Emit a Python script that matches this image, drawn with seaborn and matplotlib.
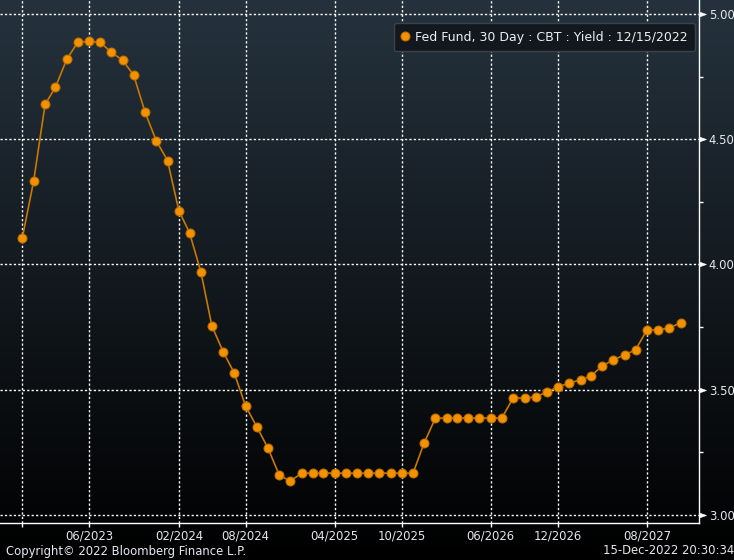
import numpy as np
import pandas as pd
import matplotlib
matplotlib.use('Agg')
import matplotlib.pyplot as plt
import seaborn as sns
from matplotlib.lines import Line2D
from matplotlib.path import Path
from matplotlib.ticker import MultipleLocator
from matplotlib.colors import LinearSegmentedColormap

# ---------------- data ----------------
months = pd.date_range('2022-12-01', periods=60, freq='MS')
yields = [4.107, 4.335, 4.639, 4.707, 4.819, 4.887, 4.891, 4.887, 4.847, 4.815,
          4.755, 4.607, 4.495, 4.415, 4.215, 4.127, 3.971, 3.755, 3.651, 3.567,
          3.435, 3.351, 3.267, 3.159, 3.135,
          3.167, 3.167, 3.167, 3.167, 3.167, 3.167, 3.167, 3.167, 3.167, 3.167, 3.167,
          3.287,
          3.387, 3.387, 3.387, 3.387, 3.387, 3.387, 3.387,
          3.467, 3.467, 3.471, 3.491, 3.511, 3.527, 3.539, 3.555, 3.595, 3.619,
          3.639, 3.659, 3.739, 3.739, 3.747, 3.767]
tick_dates = pd.to_datetime(['2022-12-01', '2023-06-01', '2024-02-01', '2024-08-01',
                             '2025-04-01', '2025-10-01', '2026-06-01', '2026-12-01',
                             '2027-08-01'])
tick_labels = ['', '06/2023', '02/2024', '08/2024', '04/2025', '10/2025',
               '06/2026', '12/2026', '08/2027']
y_ticks = [3.00, 3.50, 4.00, 4.50, 5.00]
y_tick_labels = ['3.00', '3.50', '4.00', '4.50', '5.00']
series_label = 'Fed Fund, 30 Day : CBT : Yield : 12/15/2022'
copyright_text = 'Copyright\u00a9 2022 Bloomberg Finance L.P.'
stamp_text = '15-Dec-2022 20:30:34'

# ---------------- style ----------------
sns.set_theme(style='dark')
plt.rcParams['font.family'] = ['DejaVu Sans']

LINE_C = '#c97800'
MARK_C = '#f39200'
MARK_EC = '#b86c00'
TXT_C = '#e4e8ee'

fig = plt.figure(figsize=(7.34, 5.6), dpi=100, facecolor='black')

# background gradient
bg = fig.add_axes([0, 0, 1, 1], zorder=0)
grad = np.linspace(0, 1, 256).reshape(-1, 1)
cmap = LinearSegmentedColormap.from_list('bg', ['#25323d', '#000000'])
bg.imshow(grad, aspect='auto', cmap=cmap, extent=[0, 1, 0, 1])
bg.axis('off')

ax = fig.add_axes([0, 0.0652, 0.9523, 0.9348], zorder=1)
ax.set_facecolor('none')

df = pd.DataFrame({'date': months, 'yield': yields})
sns.lineplot(data=df, x='date', y='yield', ax=ax, color=LINE_C, lw=1.2,
             marker='o', markersize=6.5, markerfacecolor=MARK_C,
             markeredgecolor=MARK_EC, markeredgewidth=0.7, legend=False, zorder=3)

ax.set_xlim(pd.Timestamp('2022-10-01'), pd.Timestamp('2027-12-21'))
ax.set_ylim(2.966, 5.056)
ax.set_xlabel('')
ax.set_ylabel('')

ax.set_xticks(tick_dates)
ax.set_xticklabels(tick_labels)
ax.yaxis.tick_right()
ax.set_yticks(y_ticks)
ax.set_yticklabels(y_tick_labels)
ax.yaxis.set_minor_locator(MultipleLocator(0.25))

ax.grid(True, which='major', axis='both', color='white',
        linestyle=(0, (1.6, 1.6)), linewidth=1.0)
ax.set_axisbelow(True)

for s in ['left', 'top']:
    ax.spines[s].set_visible(False)
for s in ['bottom', 'right']:
    ax.spines[s].set_visible(True)
    ax.spines[s].set_color('white')
    ax.spines[s].set_linewidth(1.0)

ax.tick_params(axis='x', which='major', direction='out', length=3, width=1,
               color='white', labelcolor=TXT_C, labelsize=8.4, pad=1.5,
               bottom=True)
ax.tick_params(axis='y', which='major', direction='out', length=10, width=0.4,
               color='white', labelcolor=TXT_C, labelsize=8.4, pad=-3,
               right=True, left=False, labelright=True, labelleft=False)
ax.tick_params(axis='y', which='minor', direction='out', length=3, width=1,
               color='white', right=True, left=False)

tri = Path([(0, 0.36), (1, 0), (0, -0.36), (0, 0.36)],
           [Path.MOVETO, Path.LINETO, Path.LINETO, Path.CLOSEPOLY])
for t in ax.yaxis.get_major_ticks(len(y_ticks)):
    t.tick2line.set_marker(tri)
    t.tick2line.set_markerfacecolor('white')
    t.tick2line.set_markeredgecolor('white')

handle = Line2D([], [], marker='o', ls='', color=MARK_C, markersize=6.5,
                markeredgecolor=MARK_EC, markeredgewidth=0.7)
leg = ax.legend(handles=[handle], labels=[series_label], loc='upper right',
                bbox_to_anchor=(0.9943, 0.9555), frameon=True, fancybox=True,
                facecolor='#12181e', edgecolor='#3a424a', framealpha=1,
                fontsize=9, labelcolor='#eeeeee', handlelength=0.6,
                handletextpad=0.5, borderpad=0.6, borderaxespad=0)
leg.set_zorder(5)

fig.text(5.6 / 734, 1 - 551 / 560, copyright_text, ha='left', va='center',
         color=TXT_C, fontsize=8.4)
fig.text(1.0, 1 - 551 / 560, stamp_text, ha='right', va='center',
         color=TXT_C, fontsize=8.4)

fig.savefig('out.png', dpi=100, facecolor='black')
